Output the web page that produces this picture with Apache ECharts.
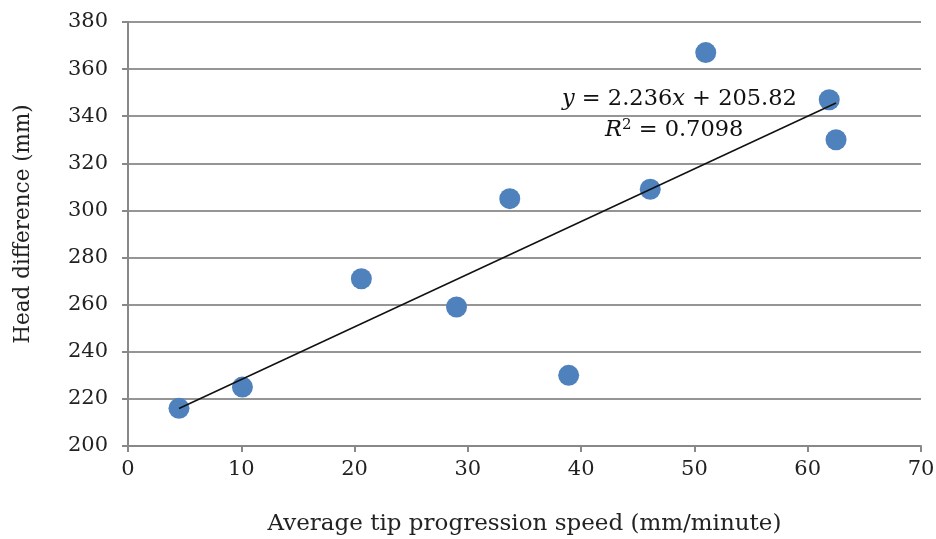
<!DOCTYPE html>
<html><head><meta charset="utf-8">
<script src="https://cdn.jsdelivr.net/npm/echarts@6/dist/echarts.min.js"></script>
<style>html,body{margin:0;padding:0;background:#fff}#c{width:936px;height:539px}</style>
</head><body><div id="c"></div>
<script>
const speedX = [4.5, 10.1, 20.6, 29.0, 33.7, 38.9, 46.1, 51.0, 61.9, 62.5];
const headY  = [216, 225, 271, 259, 305, 230, 309, 367, 347, 330];
const trendX = [4.5, 62.5];
const trendY = [215.9, 345.6];
const xTicks = [0, 10, 20, 30, 40, 50, 60, 70];
const yTicks = [200, 220, 240, 260, 280, 300, 320, 340, 360, 380];

const font = 'DejaVu Serif';
const chart = echarts.init(document.getElementById('c'));
chart.setOption({
  animation: false,
  grid: {left: 128, right: 15, top: 22, bottom: 93, containLabel: false, outerBoundsMode: 'none'},
  xAxis: {
    type: 'value', min: xTicks[0], max: xTicks[xTicks.length-1], interval: 10,
    name: 'Average tip progression speed (mm/minute)', nameLocation: 'middle', nameGap: 67,
    nameTextStyle: {fontFamily: font, fontSize: 23, color: '#222'},
    axisLine: {show: true, lineStyle: {color: '#888', width: 2}},
    axisTick: {show: true, length: 6, lineStyle: {color: '#888', width: 2}},
    axisLabel: {fontFamily: font, fontSize: 21, color: '#222', margin: 13},
    splitLine: {show: false}
  },
  yAxis: {
    type: 'value', min: yTicks[0], max: yTicks[yTicks.length-1], interval: 20,
    name: 'Head difference (mm)', nameLocation: 'middle', nameGap: 94,
    nameTextStyle: {fontFamily: font, fontSize: 21.5, color: '#222', padding: [0, 0, 0, 20]},
    axisLine: {show: true, lineStyle: {color: '#888', width: 2}},
    axisTick: {show: true, length: 6, lineStyle: {color: '#888', width: 2}},
    axisLabel: {fontFamily: font, fontSize: 21, color: '#222', margin: 20},
    splitLine: {show: true, lineStyle: {color: '#959595', width: 2}}
  },
  series: [
    {
      type: 'scatter', symbol: 'circle', symbolSize: 21,
      itemStyle: {color: '#4F81BD', opacity: 1},
      data: speedX.map((x, i) => [x, headY[i]]), z: 2
    },
    {
      type: 'line', symbol: 'none', silent: true,
      lineStyle: {color: '#111', width: 1.5},
      data: trendX.map((x, i) => [x, trendY[i]]), z: 3
    }
  ],
  graphic: [
    {type: 'text', left: 562, top: 88, z: 10, style: {
      text: '{i|y} = 2.236{i|x} + 205.82', fontFamily: font, fontSize: 22.5, fill: '#111',
      rich: {i: {fontStyle: 'italic', fontFamily: font, fontSize: 22.5, fill: '#111'}}
    }},
    {type: 'text', left: 605, top: 118, z: 10, style: {
      text: '{i|R}{s|2} = 0.7098', fontFamily: font, fontSize: 22.5, fill: '#111',
      rich: {i: {fontStyle: 'italic', fontFamily: font, fontSize: 22.5, fill: '#111'},
             s: {fontFamily: font, fontSize: 15, fill: '#111', verticalAlign: 'top', padding: [0,0,10,0]}}
    }}
  ]
});
</script></body></html>
